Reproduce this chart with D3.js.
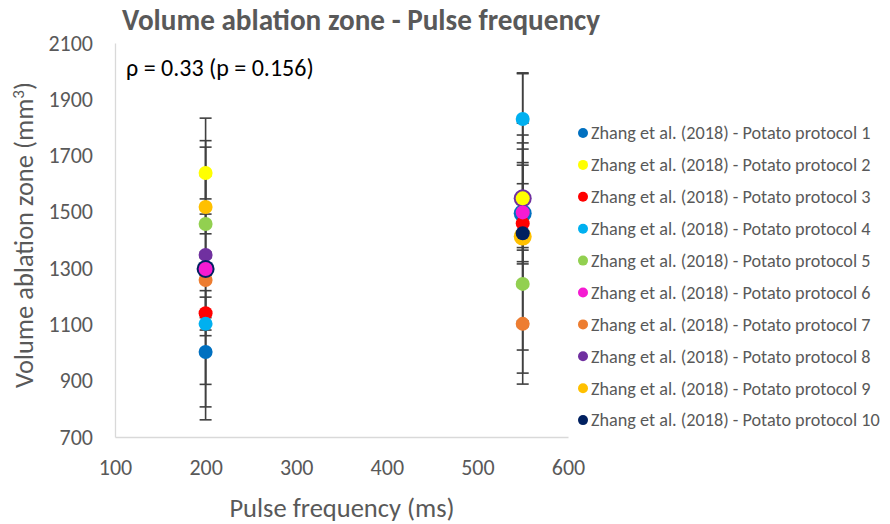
<!DOCTYPE html>
<html>
<head>
<meta charset="utf-8">
<script src="https://cdn.jsdelivr.net/npm/d3@7"></script>
<style>
  html, body { margin: 0; padding: 0; background: #ffffff; }
  svg { display: block; font-family: Carlito, Calibri, Lato, "Noto Sans", sans-serif; }
</style>
</head>
<body>
<svg id="chart" width="890" height="524"></svg>
<script>
// Protocol names (legend order)
const protocols = [
  "Zhang et al. (2018) - Potato protocol 1",
  "Zhang et al. (2018) - Potato protocol 2",
  "Zhang et al. (2018) - Potato protocol 3",
  "Zhang et al. (2018) - Potato protocol 4",
  "Zhang et al. (2018) - Potato protocol 5",
  "Zhang et al. (2018) - Potato protocol 6",
  "Zhang et al. (2018) - Potato protocol 7",
  "Zhang et al. (2018) - Potato protocol 8",
  "Zhang et al. (2018) - Potato protocol 9",
  "Zhang et al. (2018) - Potato protocol 10"
];
const protocolColors = ["#0070C0", "#FFFF00", "#FF0000", "#00B0F0", "#92D050",
                        "#F51BD2", "#ED7D31", "#7030A0", "#FFC000", "#002060"];

// Pulse frequencies tested (ms)
const frequencies = [200, 550];
// Mean ablation volume (mm³) and error per protocol, at 200 ms and 550 ms
const volume200 = [1002, 1638, 1140, 1102, 1457, 1297, 1258, 1347, 1517, 1297];
const error200  = [195, 92, 80, 22, 35, 536, 371, 10, 236, 15];
const volume550 = [1495, 1548, 1459, 1830, 1244, 1498, 1102, 1548, 1412, 1424];
const error550  = [180, 175, 532, 164, 356, 247, 10, 225, 403, 60];

const xTicks = [100, 200, 300, 400, 500, 600];
const yTicks = [700, 900, 1100, 1300, 1500, 1700, 1900, 2100];

const titleText = "Volume ablation zone - Pulse frequency";
const corrText = "ρ = 0.33 (p = 0.156)";
const xTitle = "Pulse frequency (ms)";

// Stacking order of the markers (1-based protocol numbers, first drawn at the bottom)
const drawOrder = [1, 3, 4, 5, 7, 8, 9, 10, 6, 2];

const svg = d3.select("#chart");
const x = d3.scaleLinear().domain([100, 600]).range([115, 568]);
const y = d3.scaleLinear().domain([700, 2100]).range([437, 43]);

const grey = "#595959";

// Axes: plain light-grey lines with labels, no tick marks
const xAxis = svg.append("g").attr("transform", `translate(0,${y(700)})`)
  .call(d3.axisBottom(x).tickValues(xTicks).tickFormat(d3.format("d")).tickSize(0).tickPadding(22));
const yAxis = svg.append("g").attr("transform", `translate(${x(100)},0)`)
  .call(d3.axisLeft(y).tickValues(yTicks).tickFormat(d3.format("d")).tickSize(0).tickPadding(22));
[xAxis, yAxis].forEach(g => {
  g.select(".domain").attr("stroke", "#d9d9d9").attr("stroke-width", 1.3);
  g.selectAll("text").attr("fill", grey).style("font-size", "22px")
    .style("font-family", "Carlito, Calibri, Lato, sans-serif");
});
xAxis.selectAll("text").attr("dy", "0.71em");

// Build the point records
const points = [];
frequencies.forEach((f, fi) => {
  const vals = fi === 0 ? volume200 : volume550;
  const errs = fi === 0 ? error200 : error550;
  protocols.forEach((p, i) => {
    points.push({ f, i, v: vals[i], e: errs[i], order: drawOrder.indexOf(i + 1) });
  });
});
points.sort((a, b) => a.order - b.order);

// A marker sitting just under a later one at the same spot shows as a ring
points.forEach((p, k) => {
  const covered = points.slice(k + 1).some(q => q.f === p.f && Math.abs(y(q.v) - y(p.v)) < 5);
  p.r = covered ? 9 : 7;
});

// Error bars
const eb = svg.append("g").attr("stroke", "#404040").attr("stroke-width", 1.6);
points.forEach(p => {
  const cx = x(p.f);
  eb.append("line").attr("x1", cx).attr("x2", cx).attr("y1", y(p.v - p.e)).attr("y2", y(p.v + p.e));
  [p.v - p.e, p.v + p.e].forEach(v => {
    eb.append("line").attr("x1", cx - 6).attr("x2", cx + 6).attr("y1", y(v)).attr("y2", y(v));
  });
});

// Markers
svg.append("g").selectAll("circle").data(points).join("circle")
  .attr("cx", d => x(d.f)).attr("cy", d => y(d.v)).attr("r", d => d.r)
  .attr("fill", d => protocolColors[d.i]);

// Title
svg.append("text").attr("x", 122).attr("y", 30)
  .attr("fill", grey).style("font-size", "29.2px").style("font-weight", "bold")
  .text(titleText);

// Correlation annotation
svg.append("text").attr("x", 126).attr("y", 76)
  .attr("fill", "#000").style("font-size", "24px").text(corrText);

// Axis titles
svg.append("text").attr("x", 342).attr("y", 517).attr("text-anchor", "middle")
  .attr("fill", grey).style("font-size", "26.5px").text(xTitle);

const yt = svg.append("text").attr("transform", "translate(33,235) rotate(-90)")
  .attr("text-anchor", "middle").attr("fill", grey).style("font-size", "26.5px");
yt.append("tspan").text("Volume ablation zone (mm");
yt.append("tspan").attr("dy", -9).style("font-size", "17px").text("3");
yt.append("tspan").attr("dy", 9).text(")");

// Legend
const legend = svg.append("g");
protocols.forEach((name, i) => {
  const ly = 133 + i * 31.9;
  legend.append("circle").attr("cx", 583).attr("cy", ly).attr("r", 5).attr("fill", protocolColors[i]);
  legend.append("text").attr("x", 591).attr("y", ly).attr("dy", "0.35em")
    .attr("fill", grey).style("font-size", "18.2px").text(name);
});
</script>
</body>
</html>
